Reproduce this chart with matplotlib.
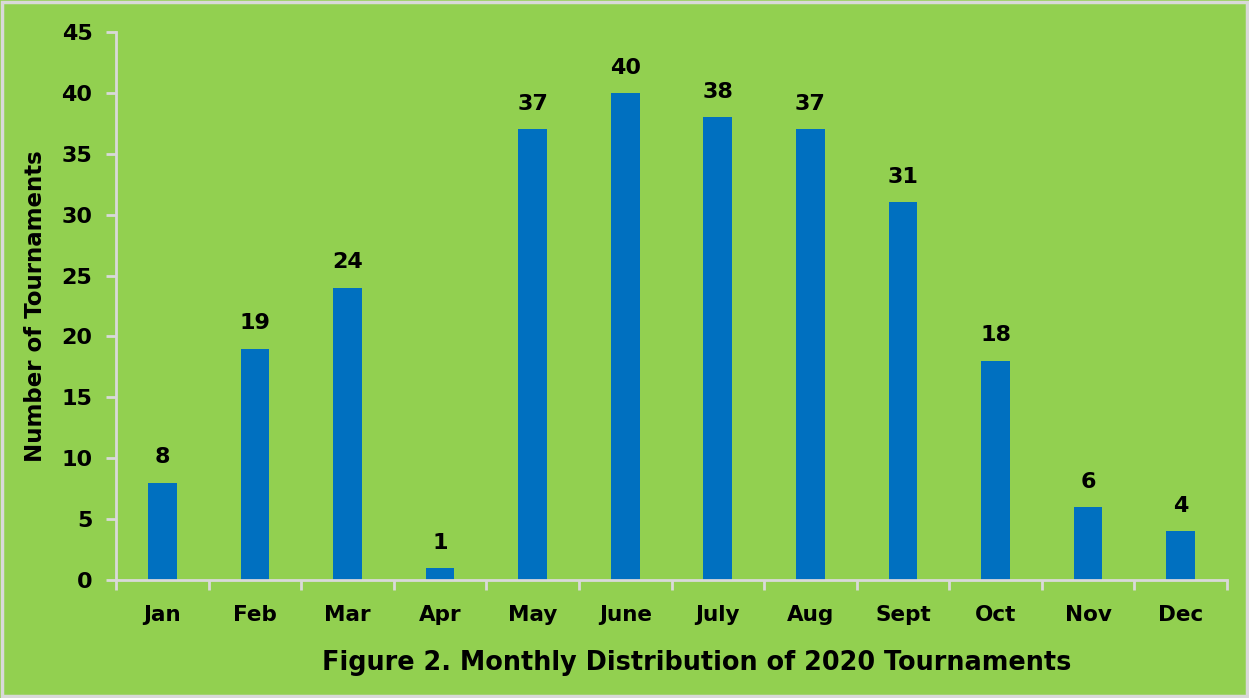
import matplotlib
matplotlib.use("Agg")
import matplotlib.pyplot as plt
from matplotlib.patches import Rectangle
import numpy as np

months = ["Jan", "Feb", "Mar", "Apr", "May", "June", "July", "Aug", "Sept", "Oct", "Nov", "Dec"]
tournaments = [8, 19, 24, 1, 37, 40, 38, 37, 31, 18, 6, 4]
yticks = [0, 5, 10, 15, 20, 25, 30, 35, 40, 45]

GREEN = "#92D050"
BLUE = "#0070C0"
GRID = "#D9D9D9"

plt.rcParams["font.family"] = ["DejaVu Sans"]
plt.rcParams["font.weight"] = "bold"

fig = plt.figure(figsize=(12.49, 6.98), dpi=100, facecolor=GREEN)
fig.patches.append(Rectangle((0.002, 0.003), 0.996, 0.994, transform=fig.transFigure,
                             fill=False, edgecolor=GRID, linewidth=2.5))
ax = fig.add_axes([0.0929, 0.1691, 0.8895, 0.7851])
ax.set_facecolor(GREEN)

x = np.arange(len(months))
ax.bar(x, tournaments, width=0.31, color=BLUE, zorder=2)
for xi, v in zip(x, tournaments):
    ax.annotate(str(v), (xi, v), xytext=(0, 11), textcoords="offset points",
                ha="center", va="bottom", fontsize=16, fontweight="bold")

ax.set_xlim(-0.5, len(months) - 0.5)
ax.set_ylim(0, 45)
ax.set_yticks(yticks)
ax.set_yticklabels([str(t) for t in yticks], fontsize=16, fontweight="bold")

ax.set_xticks(np.arange(len(months) + 1) - 0.5)
ax.set_xticklabels([])
ax.set_xticks(x, minor=True)
ax.set_xticklabels(months, minor=True, fontsize=15.5, fontweight="bold")
ax.tick_params(axis="x", which="minor", length=0, pad=18)
ax.tick_params(axis="x", which="major", length=7, width=2, color=GRID, direction="out")
ax.tick_params(axis="y", length=7, width=2, color=GRID, direction="out", pad=10)

for s in ["top", "right"]:
    ax.spines[s].set_visible(False)
for s in ["left", "bottom"]:
    ax.spines[s].set_color(GRID)
    ax.spines[s].set_linewidth(2)

ax.set_ylabel("Number of Tournaments", fontsize=16.5, fontweight="bold", labelpad=10)
fig.text(0.558, 0.05, "Figure 2. Monthly Distribution of 2020 Tournaments",
         ha="center", va="center", fontsize=18.4, fontweight="bold")

fig.savefig("out.png", dpi=100, facecolor=GREEN)
